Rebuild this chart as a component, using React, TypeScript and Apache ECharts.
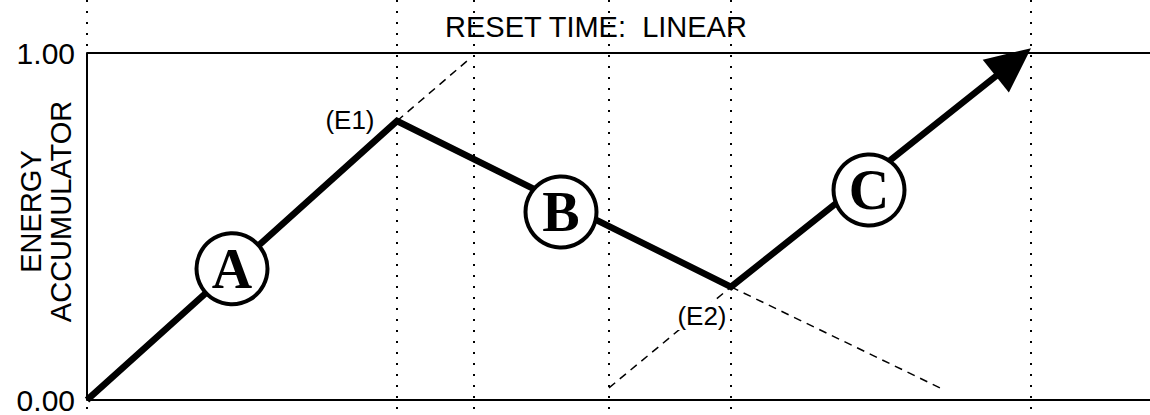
import React, { useEffect, useRef } from "react";
import * as echarts from "echarts";

// ---- data ----
const xMax = 1063; // x-axis span (time units)
const yTicks = [0, 1];
const yTickLabels = ["0.00", "1.00"];

// vertical dotted reference lines (time)
const markerX = [0, 310, 387, 522, 644, 944];

// energy accumulator path (A up, B down, C up with arrow)
const pathX = [0, 310, 644, 944];
const pathY = [0, 0.804, 0.326, 1.014];

// dashed extensions
const dashFromX = [310, 522, 644];
const dashFromY = [0.804, 0.035, 0.326];
const dashToX = [380, 644, 853];
const dashToY = [0.977, 0.326, 0.035];

// phase badges
const phaseNames = ["A", "B", "C"];
const phaseX = [145, 474, 782];
const phaseY = [0.378, 0.542, 0.605];

// event labels
const eventNames = ["(E1)", "(E2)"];
const eventX = [310, 644];
const eventY = [0.804, 0.326];

const titleText = "RESET TIME:  LINEAR";
const yAxisName = "ENERGY\nACCUMULATOR";

const SANS = "'Liberation Sans', Arial, sans-serif";
const SERIF = "'Liberation Serif', 'Times New Roman', serif";

export default function App() {
  const ref = useRef<HTMLDivElement>(null);

  useEffect(() => {
    if (!ref.current) return;
    const chart = echarts.init(ref.current, undefined, { renderer: "svg" });

    const option: any = {
      animation: false,
      backgroundColor: "#ffffff",
      title: {
        text: titleText,
        left: 445,
        top: 12,
        padding: 0,
        textStyle: { fontFamily: SANS, fontSize: 29, fontWeight: "normal", color: "#000" },
      },
      grid: { left: 87, right: 0, top: 53, bottom: 15, containLabel: false, outerBoundsMode: "none" },
      xAxis: {
        type: "value",
        min: 0,
        max: xMax,
        show: false,
      },
      yAxis: {
        type: "value",
        min: 0,
        max: 1,
        interval: 1,
        axisLine: { show: true, lineStyle: { color: "#000", width: 2 } },
        axisTick: { show: false },
        splitLine: { show: true, lineStyle: { color: "#000", width: 2 } },
        axisLabel: {
          fontFamily: SANS,
          fontSize: 30,
          color: "#000",
          margin: 12,
          formatter: (v: number) => {
            const i = yTicks.indexOf(v);
            return i >= 0 ? yTickLabels[i] : "";
          },
        },
        name: yAxisName,
        nameLocation: "middle",
        nameRotate: 90,
        nameGap: 11,
        nameMoveOverlap: false,
        nameTextStyle: {
          fontFamily: SANS,
          fontSize: 29,
          lineHeight: 30,
          color: "#000",
          padding: [0, 0, 0, 30],
        },
      },
      series: [
        {
          type: "custom",
          name: "markers",
          coordinateSystem: "cartesian2d",
          z: 1,
          silent: true,
          clip: false,
          encode: { x: 0, y: 1 },
          data: markerX.map((x) => [x, 0]),
          renderItem: (params: any, api: any) => {
            const px = api.coord([api.value(0), 0])[0];
            return {
              type: "line",
              shape: { x1: px, y1: 0, x2: px, y2: api.getHeight() },
              style: { stroke: "#000", lineWidth: 2, lineDash: [2, 9] },
            };
          },
        },
        {
          type: "lines",
          name: "extensions",
          coordinateSystem: "cartesian2d",
          z: 2,
          silent: true,
          symbol: "none",
          lineStyle: { color: "#000", width: 1.5, type: [8, 6], opacity: 1 },
          data: dashFromX.map((x, i) => ({
            coords: [
              [x, dashFromY[i]],
              [dashToX[i], dashToY[i]],
            ],
          })),
        },
        {
          type: "custom",
          name: "energy",
          coordinateSystem: "cartesian2d",
          z: 3,
          silent: true,
          clip: false,
          encode: { x: 0, y: 1 },
          data: pathX.map((x, i) => [x, pathY[i]]),
          renderItem: (params: any, api: any) => {
            if (params.dataIndex !== 0) return { type: "group", children: [] };
            const pts = pathX.map((x, i) => api.coord([x, pathY[i]]));
            const n = pts.length;
            const tip = pts[n - 1];
            const prev = pts[n - 2];
            const dx = tip[0] - prev[0];
            const dy = tip[1] - prev[1];
            const len = Math.hypot(dx, dy);
            const ux = dx / len;
            const uy = dy / len;
            const L = 45;
            const W = 21;
            const base = [tip[0] - ux * L, tip[1] - uy * L];
            const lineEnd = [tip[0] - ux * (L - 8), tip[1] - uy * (L - 8)];
            const poly = pts.slice(0, n - 1).concat([lineEnd]);
            return {
              type: "group",
              children: [
                {
                  type: "polyline",
                  shape: { points: poly },
                  style: { stroke: "#000", lineWidth: 6.5, fill: null, lineJoin: "miter" },
                },
                {
                  type: "polygon",
                  shape: {
                    points: [
                      tip,
                      [base[0] - uy * W, base[1] + ux * W],
                      [base[0] + uy * W, base[1] - ux * W],
                    ],
                  },
                  style: { fill: "#000" },
                },
              ],
            };
          },
        },
        {
          type: "scatter",
          name: "phases",
          z: 5,
          silent: true,
          symbol: "circle",
          symbolSize: 71,
          itemStyle: { color: "#fff", borderColor: "#000", borderWidth: 4, opacity: 1 },
          label: {
            show: true,
            position: "inside",
            formatter: (p: any) => p.name,
            fontFamily: SERIF,
            fontWeight: "bold",
            fontSize: 56,
            color: "#000",
          },
          data: phaseNames.map((nm, i) => ({ name: nm, value: [phaseX[i], phaseY[i]] })),
        },
        {
          type: "scatter",
          name: "events",
          z: 6,
          silent: true,
          symbol: "circle",
          symbolSize: 1,
          itemStyle: { color: "rgba(0,0,0,0)", opacity: 1 },
          label: {
            show: true,
            formatter: (p: any) => p.name,
            fontFamily: SANS,
            fontSize: 26,
            color: "#000",
          },
          data: eventNames.map((nm, i) => ({
            name: nm,
            value: [eventX[i], eventY[i]],
            label:
              i === 0
                ? { position: "left", distance: 22, offset: [0, -1] }
                : {
                    position: "left",
                    distance: 3,
                    offset: [0, 29],
                    backgroundColor: "#fff",
                    padding: [1, 1],
                  },
          })),
        },
      ],
    };

    chart.setOption(option);
    return () => chart.dispose();
  }, []);

  return (
    <div
      ref={ref}
      style={{ position: "absolute", left: 0, top: 0, width: 1150, height: 415, background: "#fff" }}
    />
  );
}
